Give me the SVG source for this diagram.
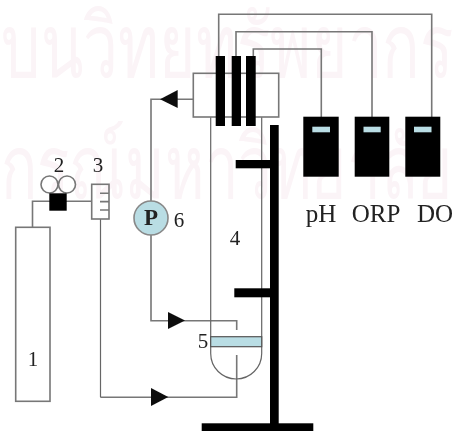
<svg xmlns="http://www.w3.org/2000/svg" width="454" height="431" viewBox="0 0 454 431">
<style>
.w{fill:none;stroke:#777;stroke-width:1.6}
.t{fill:none;stroke:#666;stroke-width:1.2}
.k{fill:#000}
.h{fill:#111}
.s{fill:#b9dde4}
.l{font-family:"Liberation Serif",serif;font-size:21px;fill:#222}
.b{font-size:25px}
.m{font-family:"Noto Sans","DejaVu Sans",sans-serif;font-size:88px;fill:#fbf4f7}
</style>
<defs><filter id="soft" x="-2%" y="-2%" width="104%" height="104%"><feGaussianBlur stdDeviation="0.5"/></filter></defs>
<rect width="454" height="431" fill="#fff"/>
<g id="watermark" filter="url(#soft)">
<text class="m" x="1" y="77" textLength="452" lengthAdjust="spacingAndGlyphs">บนวิทยทรัพยากร</text>
<text class="m" x="1" y="198" textLength="452" lengthAdjust="spacingAndGlyphs">กรณ์มหาวิทยาลัย</text>
</g>
<g filter="url(#soft)">
<g id="connectors">
<path class="w" d="M218.700 56V14.300H431.700V117"/>
<path class="w" d="M236 56V31.700H372V117"/>
<path class="w" d="M253.300 56V49H321.300V117"/>
<path class="w" d="M193 99.300H151V201M151 235V320.700H236.700V330"/>
<path class="w" d="M236.700 355V397.300H100.500"/>
<path class="t" d="M100.500 219V397.300"/>
<path class="w" d="M32.500 227V201.300H92"/>
<path class="h" d="M160 99.300L177.700 90V108Z"/>
<path class="h" d="M185 320.500L168 312V329Z"/>
<path class="h" d="M168.300 397L151 388V406Z"/>
</g>
<g id="n1"><rect class="w" x="15.700" y="227.300" width="34.300" height="174"/><text class="l" x="33" y="366" text-anchor="middle">1</text></g>
<g id="n2">
<circle class="w" cx="49.500" cy="184.500" r="8.500"/><circle class="w" cx="67" cy="184.500" r="8.500"/>
<rect class="k" x="49.300" y="193.300" width="17.400" height="17.400"/>
<text class="l" x="59" y="172" text-anchor="middle">2</text></g>
<g id="n3"><rect class="w" x="91.700" y="184.300" width="17.300" height="34.700" fill="#fff"/>
<path class="w" d="M100 193.300H109M100 201.600H109M100 210H109"/>
<text class="l" x="98" y="172" text-anchor="middle">3</text></g>
<g id="n6"><circle cx="151" cy="218" r="17" class="s" stroke="#888" stroke-width="1.600"/>
<text class="l" x="151" y="225" text-anchor="middle" font-weight="bold" style="font-size:23px">P</text>
<text class="l" x="179" y="226.500" text-anchor="middle">6</text></g>
<g id="n4"><path class="t" d="M210.700 117V353.500A25.500 25.500 0 0 0 261.700 353.500V117"/>
<text class="l" x="235" y="245" text-anchor="middle">4</text></g>
<g id="n5"><rect x="210.700" y="336.700" width="51" height="10" class="s" stroke="#555" stroke-width="1.200"/>
<text class="l" x="203" y="348" text-anchor="middle">5</text></g>
<g id="stopper"><rect class="w" x="193.300" y="73.300" width="85.400" height="43.700" fill="#fff"/>
<rect class="k" x="215.700" y="56" width="9.300" height="70"/>
<rect class="k" x="231.700" y="56" width="9.300" height="70"/>
<rect class="k" x="246" y="56" width="9.700" height="70"/></g>
<g id="stand">
<rect class="k" x="270" y="125" width="8.700" height="300"/>
<rect class="k" x="201.700" y="423.300" width="111.600" height="7.700"/>
<rect class="k" x="235.700" y="160" width="35" height="8.300"/>
<rect class="k" x="234.300" y="288.300" width="36" height="9"/></g>
<g id="pH"><rect class="k" x="303.300" y="116.700" width="35.400" height="60"/><rect class="s" x="312.300" y="126.700" width="17.700" height="5.600"/><text class="l b" x="321" y="222" text-anchor="middle">pH</text></g>
<g id="ORP"><rect class="k" x="354.700" y="116.700" width="34.600" height="60"/><rect class="s" x="363.500" y="126.700" width="17.200" height="5.600"/><text class="l b" x="376" y="222" text-anchor="middle">ORP</text></g>
<g id="DO"><rect class="k" x="405.300" y="116.700" width="35" height="60"/><rect class="s" x="414" y="126.700" width="17.500" height="5.600"/><text class="l b" x="435" y="222" text-anchor="middle">DO</text></g>
</g>
</svg>
